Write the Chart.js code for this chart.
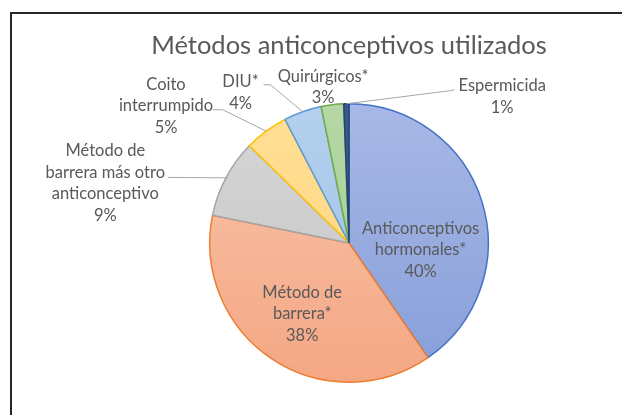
<html lang="es">
<head>
    <meta charset="utf-8">
    <title>Métodos anticonceptivos utilizados</title>
    <style>
        body { margin: 0; background: #fff; }
        #wrap { position: relative; width: 622px; height: 415px; }
        #marco { position: absolute; left: 10px; top: 12px; right: -10px; bottom: -10px;
                 border-left: 2px solid #262626; border-top: 2px solid #262626; pointer-events: none; }
    </style>
</head>
<body>
<div id="wrap">
    <canvas id="myChart" width="622" height="415"></canvas>
    <div id="marco"></div>
</div>
<script src="https://cdn.jsdelivr.net/npm/chart.js"></script>
<script>
// datos
var categorias = ['Anticonceptivos hormonales*', 'Método de barrera*', 'Método de barrera más otro anticonceptivo',
                  'Coito interrumpido', 'DIU*', 'Quirúrgicos*', 'Espermicida'];
var valores = [40.4, 37.8, 9.1, 5.1, 4.4, 2.6, 0.6];
var etiquetas = [['Anticonceptivos', 'hormonales*'], ['Método de', 'barrera*'],
                 ['Método de', 'barrera más otro', 'anticonceptivo'], ['Coito', 'interrumpido'],
                 ['DIU*'], ['Quirúrgicos*'], ['Espermicida']];

// estilos (relleno arriba, relleno abajo, borde)
var colores = [
    ['#a8b8e6', '#869ed9', '#4472c4'],
    ['#f9c4ab', '#f4a784', '#ed7d31'],
    ['#d6d6d6', '#c4c4c4', '#a5a5a5'],
    ['#ffdf96', '#ffd37a', '#ffc000'],
    ['#b4d0ee', '#9dc0e6', '#5b9bd5'],
    ['#b5d8a6', '#a3cd8f', '#70ad47'],
    ['#3a5a8c', '#2c4a78', '#264478']
];

// posicion de etiquetas en unidades del radio, relativas al centro
var posEtiqueta = [[0.514, 0.05], [-0.336, 0.51], [-1.75, -0.43], [-1.314, -0.986],
                   [-0.779, -1.079], [-0.186, -1.12], [1.1, -1.05]];
var lineasGuia = [null, null, [[-1.3, -0.471]], [[-0.907, -0.957], [-0.979, -0.957]],
                  [[-0.564, -1.136], [-0.614, -1.136]], null, [[0.721, -1.093], [0.757, -1.1]]];

var etiquetasPlugin = {
    id: 'etiquetas',
    afterDatasetsDraw: function (chart) {
        var ctx = chart.ctx;
        var meta = chart.getDatasetMeta(0);
        var total = valores.reduce(function (a, b) { return a + b; }, 0);
        ctx.save();
        meta.data.forEach(function (arc, i) {
            var p = arc.getProps(['x', 'y', 'startAngle', 'endAngle', 'outerRadius'], true);
            var r = p.outerRadius;
            var mid = (p.startAngle + p.endAngle) / 2;
            if (lineasGuia[i]) {
                ctx.beginPath();
                ctx.strokeStyle = '#a6a6a6';
                ctx.lineWidth = 1;
                ctx.moveTo(p.x + Math.cos(mid) * r, p.y + Math.sin(mid) * r);
                lineasGuia[i].forEach(function (q) {
                    ctx.lineTo(p.x + q[0] * r, p.y + q[1] * r);
                });
                ctx.stroke();
            }
            var pct = Math.round(valores[i] / total * 100) + '%';
            var lineas = etiquetas[i].concat([pct]);
            var cx = p.x + posEtiqueta[i][0] * r;
            var cy = p.y + posEtiqueta[i][1] * r;
            var lh = 21.5;
            ctx.fillStyle = '#595959';
            ctx.font = '16.5px Lato';
            ctx.textAlign = 'center';
            ctx.textBaseline = 'middle';
            lineas.forEach(function (t, k) {
                ctx.fillText(t, cx, cy + (k - (lineas.length - 1) / 2) * lh);
            });
        });
        ctx.restore();
    }
};

function relleno(context) {
    var chart = context.chart;
    var area = chart.chartArea;
    if (!area) return colores[context.dataIndex][1];
    var c = colores[context.dataIndex];
    var g = chart.ctx.createLinearGradient(0, area.top, 0, area.bottom);
    g.addColorStop(0, c[0]);
    g.addColorStop(1, c[1]);
    return g;
}

new Chart('myChart', {
    type: 'pie',
    data: {
        labels: categorias,
        datasets: [{
            data: valores,
            backgroundColor: relleno,
            borderColor: colores.map(function (c) { return c[2]; }),
            borderWidth: 1.5
        }]
    },
    options: {
        responsive: false,
        animation: false,
        events: [],
        layout: { padding: { top: 30, bottom: 32, left: 76, right: 0 } },
        plugins: {
            legend: { display: false },
            tooltip: { enabled: false },
            title: {
                display: true,
                text: 'Métodos anticonceptivos utilizados',
                color: '#595959',
                font: { family: 'Lato', size: 25.5, weight: 'normal', lineHeight: 1.2 },
                padding: { top: 0, bottom: 42.4 }
            }
        }
    },
    plugins: [etiquetasPlugin]
});
</script>
</body>
</html>
